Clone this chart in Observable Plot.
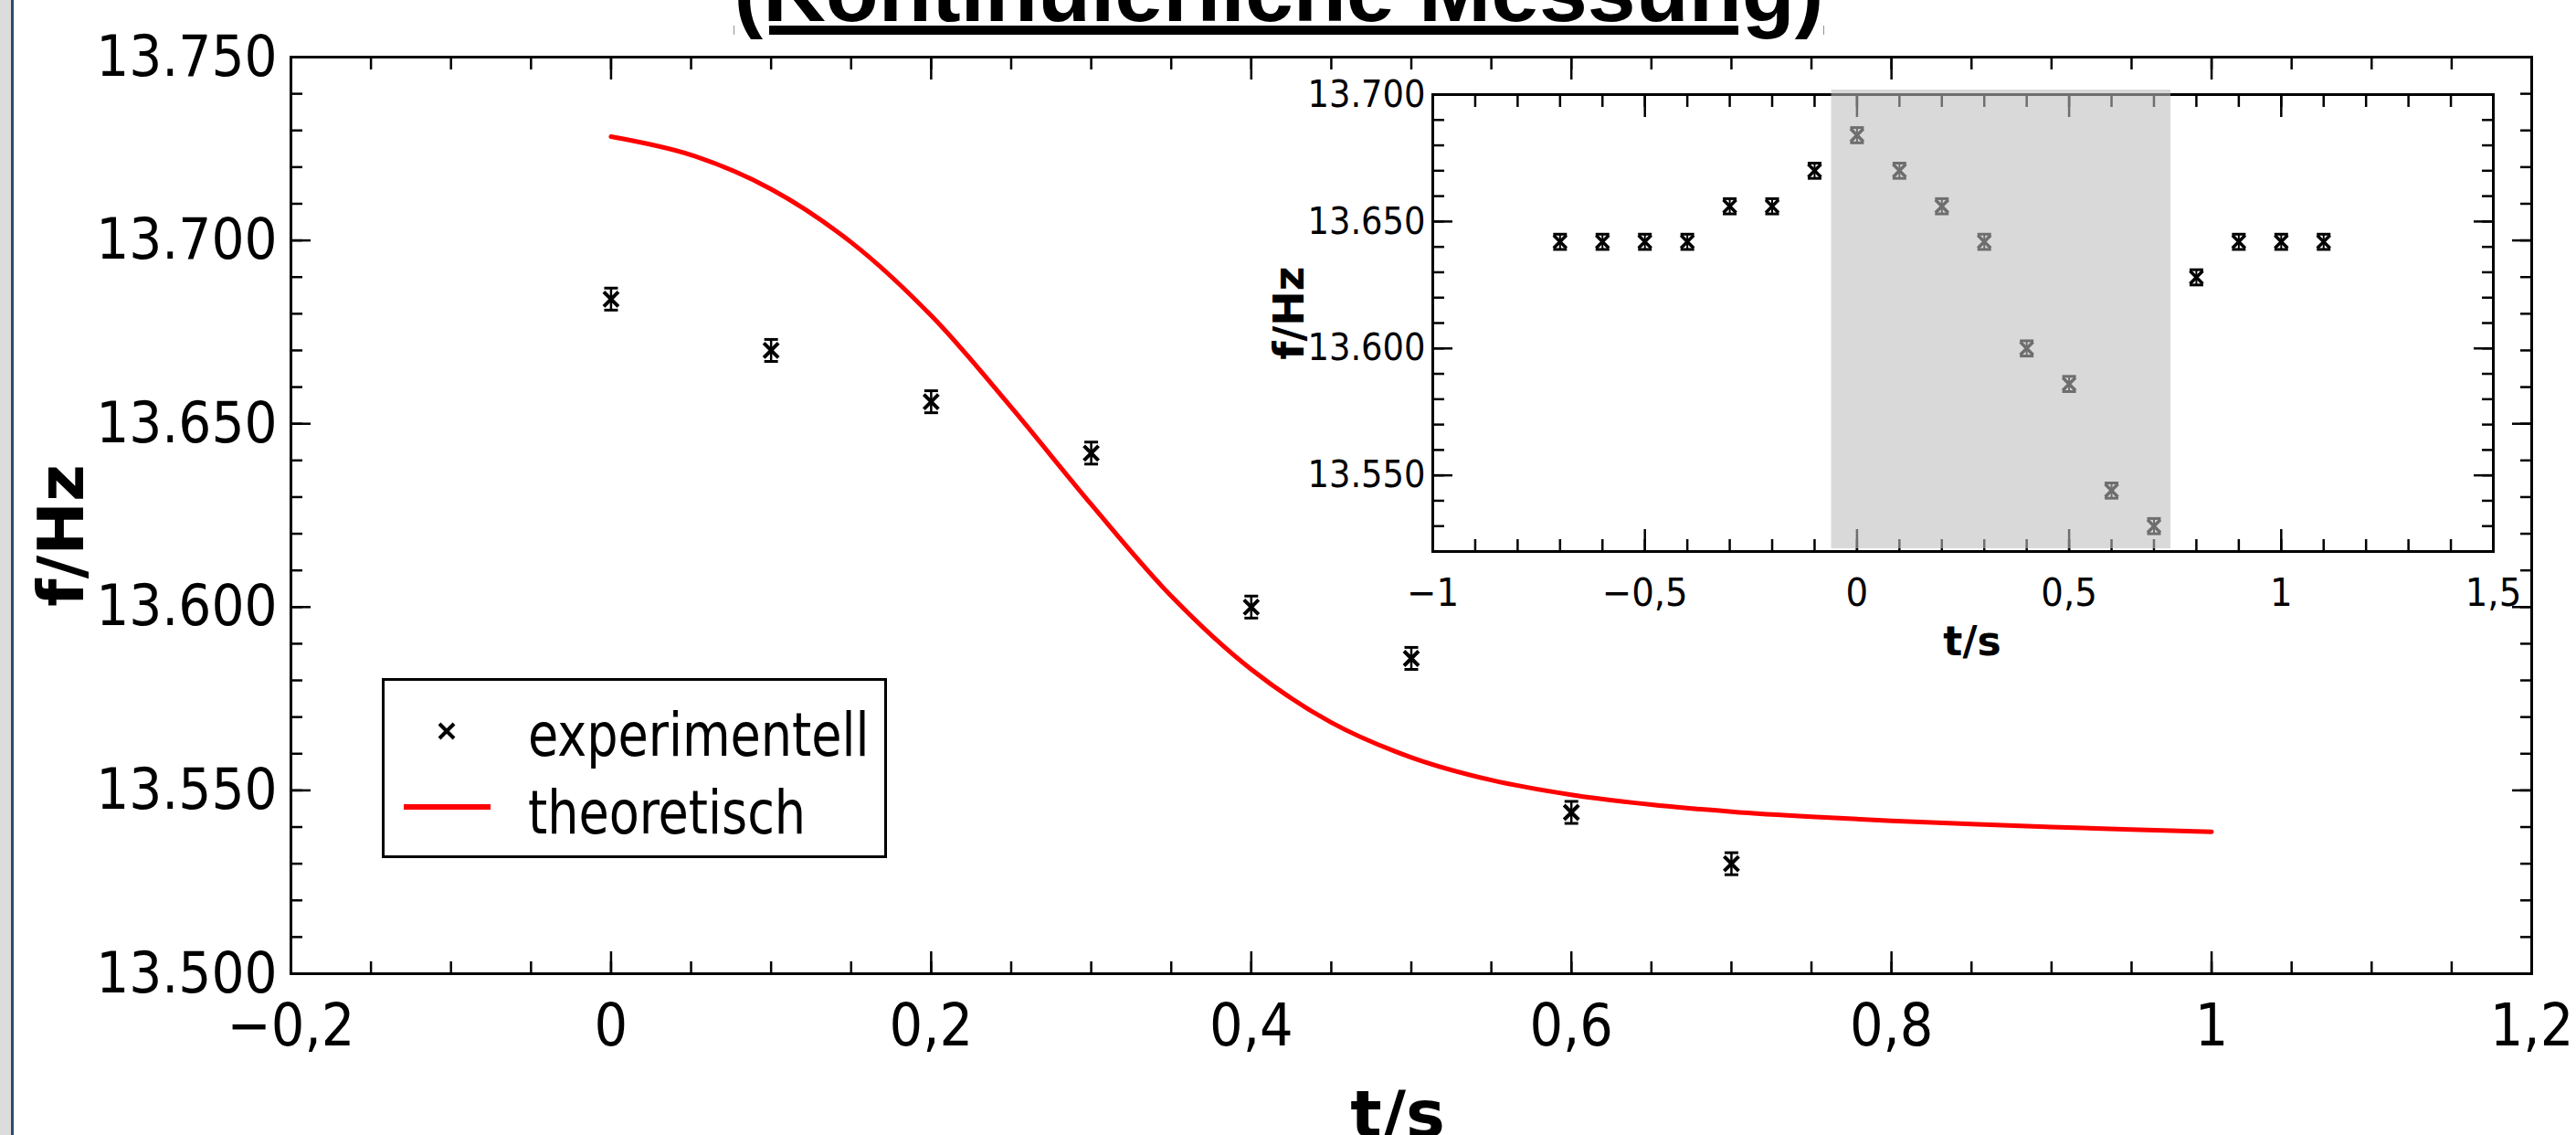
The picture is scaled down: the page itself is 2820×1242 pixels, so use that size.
<!DOCTYPE html>
<html>
<head>
<meta charset="utf-8">
<script src="https://cdn.jsdelivr.net/npm/d3@7"></script>
<script src="https://cdn.jsdelivr.net/npm/@observablehq/plot@0.6"></script>
<style>
  html, body { margin: 0; padding: 0; background: #fff; }
  #page { position: relative; width: 2820px; height: 1242px; overflow: hidden; background: #fff; }
  #page > svg { position: absolute; }
  #strip { position: absolute; left: 0; top: 0; width: 12px; height: 1242px; background: #dcdcdc; }
  #stripLine { position: absolute; left: 12px; top: 0; width: 3px; height: 1242px; background: #2d4a6b; }
  #title { position: absolute; left: 0; width: 2800px; top: -64px; text-align: center;
           font-family: "Liberation Sans", Arial, sans-serif; font-weight: bold; font-size: 95px;
           line-height: normal; text-decoration: underline; text-decoration-thickness: 10px;
           text-underline-offset: 5px; color: #000; white-space: nowrap; }
</style>
</head>
<body>
<div id="page"><div id="strip"></div><div id="stripLine"></div></div>
<script>
// ---------- data ----------
const titleText = "(Kontinuierliche Messung)";
const xLabel = "t/s";
const yLabel = "f/Hz";
const legendLabels = ["experimentell", "theoretisch"];

const expT = [0, 0.1, 0.2, 0.3, 0.4, 0.5, 0.6, 0.7];
const expF = [13.684, 13.670, 13.656, 13.642, 13.600, 13.586, 13.544, 13.530];
const expErr = 0.003;

const theoryT = [0, 0.05, 0.1, 0.15, 0.2, 0.25, 0.3, 0.35, 0.4, 0.45, 0.5,
                 0.55, 0.6, 0.65, 0.7, 0.75, 0.8, 0.85, 0.9, 0.95, 1.0];
const theoryF = [13.7283, 13.7233, 13.7140, 13.6995, 13.6795, 13.6545, 13.6280, 13.6030, 13.5830, 13.5685, 13.5590,
                 13.5528, 13.5488, 13.5461, 13.5442, 13.5428, 13.5417, 13.5408, 13.5400, 13.5393, 13.5387];

const insetT = [-0.7, -0.6, -0.5, -0.4, -0.3, -0.2, -0.1, 0, 0.1, 0.2, 0.3, 0.4, 0.5, 0.6, 0.7, 0.8, 0.9, 1.0, 1.1];
const insetF = [13.642, 13.642, 13.642, 13.642, 13.656, 13.656, 13.670, 13.684, 13.670, 13.656, 13.642,
                13.600, 13.586, 13.544, 13.530, 13.628, 13.642, 13.642, 13.642];
const highlightStart = -0.06;
const highlightEnd = 0.74;

const mainXTicks = [-0.2, 0, 0.2, 0.4, 0.6, 0.8, 1, 1.2];
const mainYTicks = [13.5, 13.55, 13.6, 13.65, 13.7, 13.75];
const insetXTicks = [-1, -0.5, 0, 0.5, 1, 1.5];
const insetYTicks = [13.55, 13.6, 13.65, 13.7];

const mainXDomain = [-0.2, 1.2], mainYDomain = [13.5, 13.75];
const insetXDomain = [-1, 1.5], insetYDomain = [13.52, 13.70];

// minor tick positions
const mainXMinor = d3.range(0, 29).map(i => -0.2 + i * 0.05);
const mainYMinor = d3.range(0, 26).map(i => 13.5 + i * 0.01);
const insetXMinor = d3.range(0, 26).map(i => -1 + i * 0.1);
const insetYMinor = d3.range(0, 19).map(i => 13.52 + i * 0.01);

// ---------- helpers ----------
const FONT = "'DejaVu Sans Condensed', 'DejaVu Sans', sans-serif";
const TITLE_FONT = "'DejaVu Sans', sans-serif";
const fmtX = d => String(d).replace(".", ",").replace("-", "\u2212");
const fmtY = d3.format(".3f");

const timesSym = {draw(ctx, size) { const h = Math.sqrt(size / Math.PI);
  ctx.moveTo(-h, -h); ctx.lineTo(h, h); ctx.moveTo(-h, h); ctx.lineTo(h, -h); }};
const capSym = {draw(ctx, size) { const h = Math.sqrt(size / Math.PI);
  ctx.moveTo(-h, 0); ctx.lineTo(h, 0); }};

function frameTicks(xMaj, xMin, yMaj, yMin, sw) {
  const o = {label: null, tickFormat: () => "", strokeWidth: sw, stroke: "black"};
  return [
    Plot.axisX(xMin, {...o, anchor: "bottom", tickSize: -13}),
    Plot.axisX(xMaj, {...o, anchor: "bottom", tickSize: -24}),
    Plot.axisX(xMin, {...o, anchor: "top", tickSize: -13}),
    Plot.axisX(xMaj, {...o, anchor: "top", tickSize: -24}),
    Plot.axisY(yMin, {...o, anchor: "left", tickSize: -13}),
    Plot.axisY(yMaj, {...o, anchor: "left", tickSize: -22}),
    Plot.axisY(yMin, {...o, anchor: "right", tickSize: -13}),
    Plot.axisY(yMaj, {...o, anchor: "right", tickSize: -22})
  ];
}

function errMarks(data, r, sw, capR, ruleW) {
  return [
    Plot.ruleX(data, {x: "t", y1: d => d.f - expErr, y2: d => d.f + expErr, stroke: "black", strokeWidth: ruleW}),
    Plot.dot(data, {x: "t", y: d => d.f + expErr, r: capR, symbol: capSym, stroke: "black", fill: "none", strokeWidth: 3}),
    Plot.dot(data, {x: "t", y: d => d.f - expErr, r: capR, symbol: capSym, stroke: "black", fill: "none", strokeWidth: 3}),
    Plot.dot(data, {x: "t", y: "f", r: r, symbol: timesSym, stroke: "black", fill: "none", strokeWidth: sw})
  ];
}

function normalStretch(svg) {
  d3.select(svg).selectAll('g[aria-label="text"]').style("font-stretch", "normal");
}

const expData = expT.map((t, i) => ({t, f: expF[i]}));
const theoryData = theoryT.map((t, i) => ({t, f: theoryF[i]}));
const insetData = insetT.map((t, i) => ({t, f: insetF[i]}));

const page = document.getElementById("page");

// ---------- main plot ----------
const main = Plot.plot({
  width: 2820, height: 1242,
  marginLeft: 318, marginRight: 49, marginTop: 62, marginBottom: 177,
  x: {domain: mainXDomain},
  y: {domain: mainYDomain},
  style: {fontFamily: FONT, fontStretch: "condensed", color: "black", background: "transparent", overflow: "visible"},
  marks: [
    ...frameTicks(mainXTicks, mainXMinor, mainYTicks, mainYMinor, 2.5),
    Plot.axisX(mainXTicks, {anchor: "bottom", tickSize: 0, tickPadding: 33, tickFormat: fmtX, fontSize: 64, label: null}),
    Plot.axisY(mainYTicks, {anchor: "left", tickSize: 0, tickPadding: 15, tickFormat: fmtY, fontSize: 63, label: null}),
    Plot.text([xLabel], {frameAnchor: "bottom", text: d => d, dy: 127, dx: -15, lineAnchor: "top", textAnchor: "middle",
      fontSize: 72, fontWeight: "bold", fontFamily: TITLE_FONT}),
    Plot.text([yLabel], {frameAnchor: "left", text: d => d, rotate: -90, dx: -250, dy: 22, textAnchor: "middle",
      lineAnchor: "middle", fontSize: 70, fontWeight: "bold", fontFamily: TITLE_FONT}),
    Plot.line(theoryData, {x: "t", y: "f", stroke: "#ff0000", strokeWidth: 5, curve: "catmull-rom"}),
    ...errMarks(expData, 8, 4, 7.5, 2.5),
    Plot.frame({stroke: "black", strokeWidth: 3})
  ]
});
normalStretch(main);
main.style.left = "0px"; main.style.top = "0px";
page.appendChild(main);

// ---------- inset ----------
const inset = Plot.plot({
  width: 1390, height: 700,
  marginLeft: 188, marginRight: 41, marginTop: 43, marginBottom: 157,
  x: {domain: insetXDomain},
  y: {domain: insetYDomain},
  style: {fontFamily: FONT, fontStretch: "condensed", color: "black", background: "transparent", overflow: "visible"},
  marks: [
    Plot.frame({fill: "white", stroke: "none"}),
    ...frameTicks(insetXTicks, insetXMinor, insetYTicks, insetYMinor, 2.5),
    Plot.axisX(insetXTicks, {anchor: "bottom", tickSize: 0, tickPadding: 29, tickFormat: fmtX, fontSize: 43, label: null}),
    Plot.axisY(insetYTicks, {anchor: "left", tickSize: 0, tickPadding: 8, tickFormat: fmtY, fontSize: 41, label: null}),
    Plot.text([xLabel], {frameAnchor: "bottom", text: d => d, dy: 82, dx: 10, lineAnchor: "top", textAnchor: "middle",
      fontSize: 44, fontWeight: "bold", fontFamily: TITLE_FONT}),
    Plot.text([yLabel], {frameAnchor: "left", text: d => d, rotate: -90, dx: -156, dy: -11, textAnchor: "middle",
      lineAnchor: "middle", fontSize: 46, fontWeight: "bold", fontFamily: TITLE_FONT}),
    ...errMarks(insetData, 7, 3.5, 7.5, 2),
    Plot.frame({stroke: "black", strokeWidth: 3}),
    Plot.rect([{a: highlightStart, b: highlightEnd}], {x1: "a", x2: "b", insetTop: -5, insetBottom: 3,
      fill: "#bdbdbd", fillOpacity: 0.58})
  ]
});
normalStretch(inset);
inset.style.left = "1380px"; inset.style.top = "60px";
page.appendChild(inset);

// ---------- legend ----------
const leg = d3.create("svg").attr("width", 553).attr("height", 197)
  .style("left", "418px").style("top", "742px")
  .style("font-family", FONT).style("font-stretch", "condensed");
leg.append("rect").attr("x", 1.5).attr("y", 1.5).attr("width", 550).attr("height", 194)
  .attr("fill", "white").attr("stroke", "black").attr("stroke-width", 3);
leg.append("path").attr("d", "M63,50L79,66M63,66L79,50").attr("stroke", "black").attr("stroke-width", 4).attr("fill", "none");
leg.append("line").attr("x1", 24).attr("x2", 119).attr("y1", 141).attr("y2", 141)
  .attr("stroke", "#ff0000").attr("stroke-width", 6);
leg.selectAll("text.l").data(legendLabels).join("text")
  .attr("transform", (d, i) => `translate(160,${85 + i * 85}) scale(0.91,1)`)
  .attr("font-size", 66).attr("fill", "black").text(d => d);
page.appendChild(leg.node());

// ---------- title ----------
const title = document.createElement("div");
title.id = "title";
title.textContent = titleText;
page.appendChild(title);
</script>
</body>
</html>
